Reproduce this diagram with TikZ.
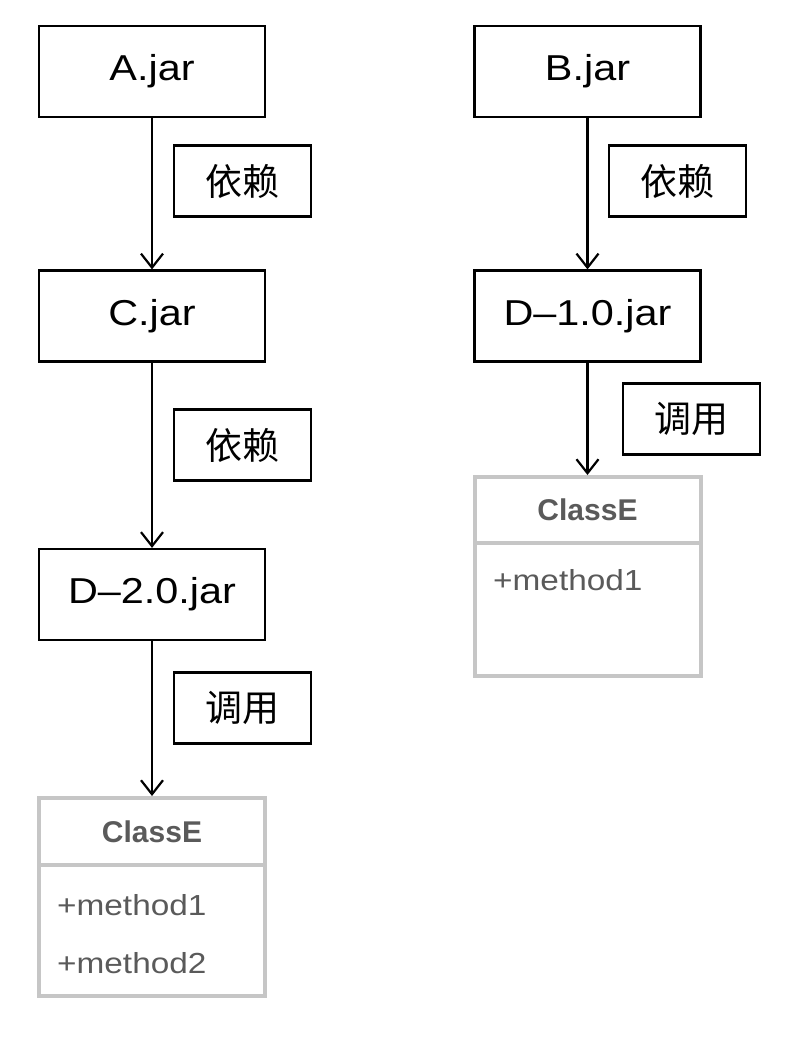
\documentclass[tikz,border=0pt]{standalone}
\usepackage{fontspec}
\setmainfont{Liberation Sans}[FakeStretch=1.15]
\newfontfamily\headfont{Liberation Sans}
\newfontfamily\cjk{Noto Sans CJK SC}
\usetikzlibrary{arrows.meta}
\definecolor{clsborder}{HTML}{C6C6C6}
\definecolor{clstext}{HTML}{5A5A5A}
\begin{document}
\begin{tikzpicture}[x=1pt,y=-1pt,
  jarbox/.style={draw=black,line width=2.2pt,minimum width=226pt,minimum height=91pt,inner sep=0pt,font=\fontsize{36}{40}\selectfont},
  lblbox/.style={draw=black,line width=2.2pt,minimum width=137pt,minimum height=71pt,inner sep=0pt,font=\cjk\fontsize{37}{40}\selectfont},
  clshead/.style={draw=clsborder,line width=4pt,minimum width=226pt,inner sep=0pt,text=clstext,font=\headfont\bfseries\fontsize{30}{32}\selectfont},
  clsbody/.style={draw=clsborder,line width=4pt,minimum width=226pt,inner sep=0pt},
  meth/.style={anchor=west,inner sep=0pt,text=clstext,font=\fontsize{29}{31}\selectfont},
  dep/.style={line width=2.2pt,-{Straight Barb[length=14pt,width=22pt,line width=2.2pt]}}
]
\path[use as bounding box,fill=white] (0,0) rectangle (792,1042);

% left column
\node[jarbox] (A) at (152,71.5) {A.jar};
\node[lblbox] (l1) at (242.5,181) {依赖};
\node[jarbox] (C) at (152,316) {C.jar};
\node[lblbox] (l2) at (242.5,445) {依赖};
\node[jarbox] (D2) at (152,594.5) {D--2.0.jar};
\node[lblbox] (l3) at (242.5,708) {调用};
\node[clshead,minimum height=67pt] (E2h) at (152,831.5) {ClassE};
\node[clsbody,minimum height=131pt] (E2b) at (152,930.5) {};
\node[meth] (m21) at (57,905) {+method1};
\node[meth] (m22) at (57,963) {+method2};

\draw[dep] (A.south) -- (C.north);
\draw[dep] (C.south) -- (D2.north);
\draw[dep] (D2.south) -- (E2h.north);

% right column
\node[jarbox] (B) at (587.5,71.5) {B.jar};
\node[lblbox] (r1) at (677.5,181) {依赖};
\node[jarbox] (D1) at (587.5,316) {D--1.0.jar};
\node[lblbox] (r2) at (691.5,419) {调用};
\node[clshead,minimum height=66pt] (E1h) at (587.5,510) {ClassE};
\node[clsbody,minimum height=133pt] (E1b) at (587.5,609.5) {};
\node[meth] (m11) at (493,580) {+method1};

\draw[dep] (B.south) -- (D1.north);
\draw[dep] (D1.south) -- (E1h.north);
\end{tikzpicture}
\end{document}
